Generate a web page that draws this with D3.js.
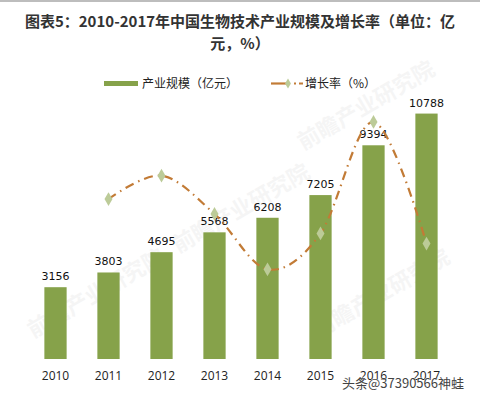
<!DOCTYPE html>
<html><head><meta charset="utf-8">
<script src="https://cdn.jsdelivr.net/npm/d3@7"></script>
<style>
html,body{margin:0;padding:0;background:#fff;}
svg{display:block;font-family:"Noto Sans CJK SC","Noto Sans",sans-serif;}
</style></head>
<body>
<svg id="c" width="480" height="399"></svg>
<script>
const years = ["2010","2011","2012","2013","2014","2015","2016","2017"];
const scaleValues = [3156,3803,4695,5568,6208,7205,9394,10788];
const growthYears = ["2011","2012","2013","2014","2015","2016","2017"];
const growthValues = [20.5,23.5,18.6,11.5,16.1,30.4,14.8];

(function(){
const svg = d3.select("#c");
const W = 480, H = 399;
const plotTop = 86, plotBottom = 359;

svg.append("rect").attr("x",0).attr("y",0).attr("width",W).attr("height",2).attr("fill","#bdbdbd");

svg.append("text").attr("x",240).attr("y",27).attr("text-anchor","middle")
  .attr("font-size",15).attr("font-weight","bold").attr("fill","#333")
  .text("图表5：2010-2017年中国生物技术产业规模及增长率（单位：亿");
svg.append("text").attr("x",240).attr("y",49).attr("text-anchor","middle")
  .attr("font-size",15).attr("font-weight","bold").attr("fill","#333")
  .text("元，%）");

// faint watermarks
const wm = [[100,300],[245,215],[370,112],[385,300]];
wm.forEach(([x,y])=>{
  svg.append("text").attr("x",x).attr("y",y).attr("text-anchor","middle")
    .attr("font-size",22).attr("font-weight","bold").attr("fill","#000").attr("opacity",0.035)
    .attr("transform",`rotate(-30,${x},${y})`).text("前瞻产业研究院");
});

const x = d3.scaleBand().domain(years).range([29,453]).paddingInner(0.58).paddingOuter(0.29);
const y = d3.scaleLinear().domain([0,12000]).range([plotBottom,plotTop]);
const y2 = d3.scaleLinear().domain([0,35]).range([plotBottom,plotTop]);

svg.append("g").selectAll("rect").data(years).join("rect")
  .attr("x",d=>x(d)).attr("width",x.bandwidth())
  .attr("y",(d,i)=>y(scaleValues[i])).attr("height",(d,i)=>plotBottom-y(scaleValues[i]))
  .attr("fill","#86a24a");

svg.append("g").selectAll("text").data(years).join("text")
  .attr("x",d=>x(d)+x.bandwidth()/2).attr("y",(d,i)=>y(scaleValues[i])-7)
  .attr("text-anchor","middle").attr("font-size",11).attr("fill","#111")
  .attr("font-family","DejaVu Sans, sans-serif")
  .text((d,i)=>scaleValues[i]);

const xAxis = svg.append("g").attr("transform",`translate(0,${plotBottom})`)
  .call(d3.axisBottom(x).tickSize(0).tickPadding(12));
xAxis.select(".domain").remove();
xAxis.selectAll("text").attr("font-size",12).attr("fill","#222")
  .attr("font-family","Open Sans, sans-serif");

const pts = growthYears.map((d,i)=>[x(d)+x.bandwidth()/2, y2(growthValues[i])]);
svg.append("path").attr("d",d3.line().curve(d3.curveCardinal.tension(0))(pts))
  .attr("fill","none").attr("stroke","#c27b36").attr("stroke-width",2.2)
  .attr("stroke-dasharray","9,5,1.5,5");
const diamond = d3.symbol().type(d3.symbolDiamond).size(55);
svg.append("g").selectAll("path").data(pts).join("path")
  .attr("transform",d=>`translate(${d[0]},${d[1]})`).attr("d",diamond)
  .attr("fill","#bccb98");

// legend
svg.append("rect").attr("x",104).attr("y",81).attr("width",34).attr("height",5).attr("fill","#86a24a");
svg.append("text").attr("x",142).attr("y",88).attr("font-size",12).attr("fill","#222").text("产业规模（亿元）");
svg.append("line").attr("x1",271).attr("x2",286).attr("y1",83.5).attr("y2",83.5).attr("stroke","#c27b36").attr("stroke-width",2.2);
svg.append("path").attr("transform","translate(288,83.5)").attr("d",d3.symbol().type(d3.symbolDiamond).size(30)).attr("fill","#bccb98");
svg.append("line").attr("x1",294).attr("x2",303).attr("y1",83.5).attr("y2",83.5).attr("stroke","#c27b36").attr("stroke-width",2.2).attr("stroke-dasharray","2,3,4,0");
svg.append("text").attr("x",305).attr("y",88).attr("font-size",12).attr("fill","#222").text("增长率（%）");

// source watermark
svg.append("text").attr("x",342).attr("y",388).attr("font-size",13).attr("fill","#444")
  .attr("stroke","#fff").attr("stroke-width",0.6).attr("paint-order","stroke")
  .text("头条@37390566神蛙");
})();
</script>
</body></html>
